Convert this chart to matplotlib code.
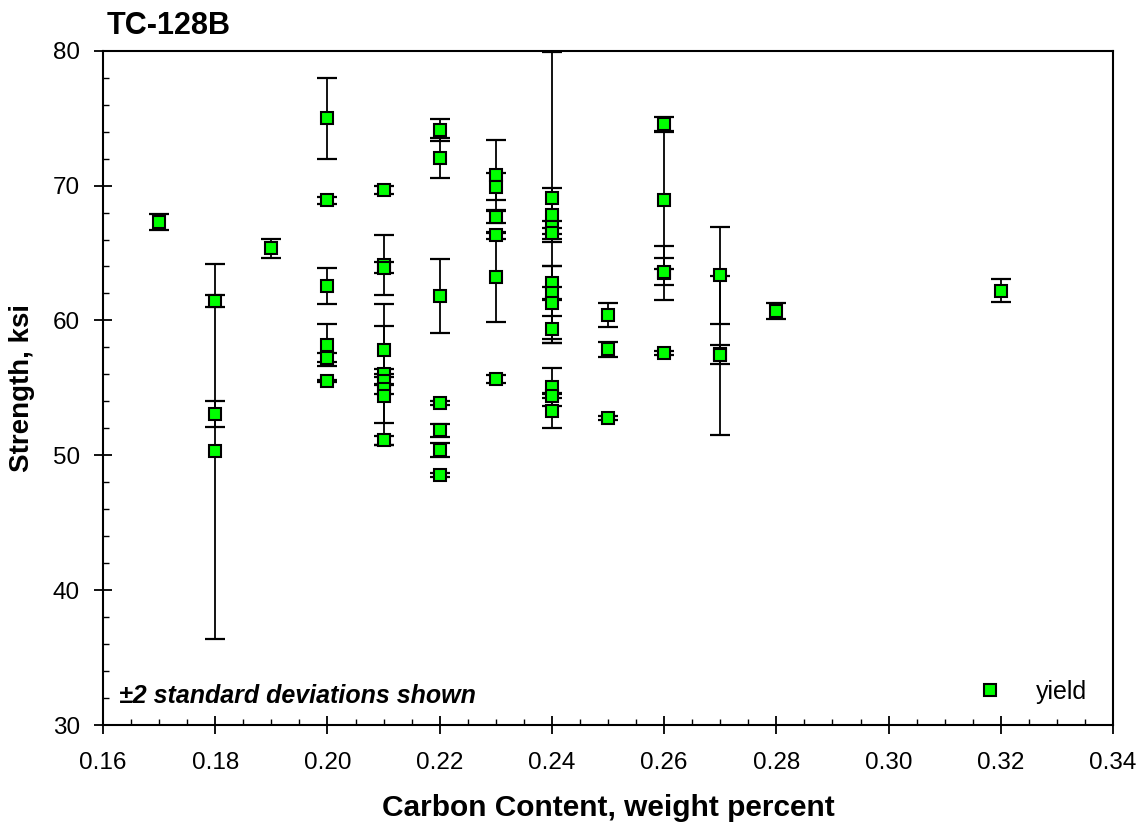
import matplotlib
matplotlib.use("Agg")
import matplotlib.pyplot as plt
from matplotlib.ticker import MultipleLocator, FormatStrFormatter

plt.rcParams['font.family'] = ['Liberation Sans', 'DejaVu Sans']

# carbon content (weight percent) for each yield test
carbon = [0.17,
          0.18, 0.18, 0.18,
          0.19,
          0.20, 0.20, 0.20, 0.20, 0.20, 0.20,
          0.21, 0.21, 0.21, 0.21, 0.21, 0.21, 0.21, 0.21, 0.21,
          0.22, 0.22, 0.22, 0.22, 0.22, 0.22, 0.22,
          0.23, 0.23, 0.23, 0.23, 0.23, 0.23,
          0.24, 0.24, 0.24, 0.24, 0.24, 0.24, 0.24, 0.24, 0.24, 0.24, 0.24,
          0.25, 0.25, 0.25,
          0.26, 0.26, 0.26, 0.26, 0.26,
          0.27, 0.27, 0.27,
          0.28,
          0.32]

# yield strength, ksi
yield_ksi = [67.3,
             61.45, 53.05, 50.3,
             65.35,
             75.0, 68.9, 62.55, 58.15, 57.25, 55.5,
             69.65, 64.1, 63.9, 57.8, 56.0, 55.5, 54.9, 54.4, 51.1,
             74.1, 72.05, 61.8, 53.9, 51.85, 50.4, 48.55,
             70.8, 69.9, 67.7, 66.3, 63.2, 55.65,
             69.1, 67.8, 66.9, 66.45, 62.8, 62.0, 61.3, 59.35, 55.05, 54.4, 53.3,
             60.4, 57.85, 52.75,
             74.55, 68.95, 63.5, 63.6, 57.6,
             63.35, 57.5, 57.4,
             60.7,
             62.2]

# 2 standard deviations
two_sd = [0.6,
          0.45, 0.95, 13.9,
          0.7,
          3.0, 0.25, 1.35, 1.55, 0.3, 0.1,
          0.3, 2.2, 0.4, 1.8, 5.2, 0.3, 0.35, 2.0, 0.35,
          0.8, 1.5, 2.75, 0.15, 0.5, 0.5, 0.15,
          2.6, 1.0, 0.45, 0.25, 3.3, 0.3,
          10.8, 2.0, 0.5, 0.4, 1.2, 0.5, 2.7, 1.0, 1.4, 0.15, 1.3,
          0.9, 0.55, 0.15,
          0.55, 5.1, 2.0, 1.0, 0.15,
          3.6, 0.7, 5.9,
          0.58,
          0.84]

fig = plt.figure(figsize=(11.43, 8.27), dpi=100)
ax = fig.add_axes([0.0901, 0.1233, 0.8837, 0.8154])

ax.errorbar(carbon, yield_ksi, yerr=two_sd, fmt='none', ecolor='black',
            elinewidth=1.3, capsize=7, capthick=1.6, zorder=2)
ax.plot(carbon, yield_ksi, 's', color='#00ff00', markeredgecolor='black',
        markeredgewidth=1.5, markersize=9, label='yield', zorder=3)

ax.set_xlim(0.16, 0.34)
ax.set_ylim(30, 80)
ax.xaxis.set_major_locator(MultipleLocator(0.02))
ax.xaxis.set_minor_locator(MultipleLocator(0.005))
ax.xaxis.set_major_formatter(FormatStrFormatter('%.2f'))
ax.yaxis.set_major_locator(MultipleLocator(10))
ax.yaxis.set_minor_locator(MultipleLocator(2))

ax.tick_params(which='major', direction='inout', length=13.5, width=1.3,
               labelsize=17.5)
ax.tick_params(axis='x', which='major', pad=13)
ax.tick_params(axis='y', which='major', pad=10)
ax.tick_params(which='minor', direction='in', length=4.5, width=1.0)
for s in ax.spines.values():
    s.set_linewidth(1.5)

ax.set_xlabel('Carbon Content, weight percent', fontsize=21.5, fontweight='bold')
ax.set_ylabel('Strength, ksi', fontsize=20, fontweight='bold')
ax.xaxis.set_label_coords(0.5, -0.103)
ax.yaxis.set_label_coords(-0.067, 0.5)

fig.text(0.093, 1 - 34 / 827, 'TC-128B', fontsize=22, fontweight='bold',
         ha='left', va='baseline')
ax.text(0.016, 0.033, '\u00b12 standard deviations shown', transform=ax.transAxes,
        fontsize=18, fontweight='bold', fontstyle='italic', ha='left', va='baseline')

ax.legend(loc='lower right', bbox_to_anchor=(0.996, -0.002), frameon=False,
          fontsize=18, markerscale=1.0, handletextpad=1.3, handlelength=1.0)

fig.savefig('out.png', dpi=100)
